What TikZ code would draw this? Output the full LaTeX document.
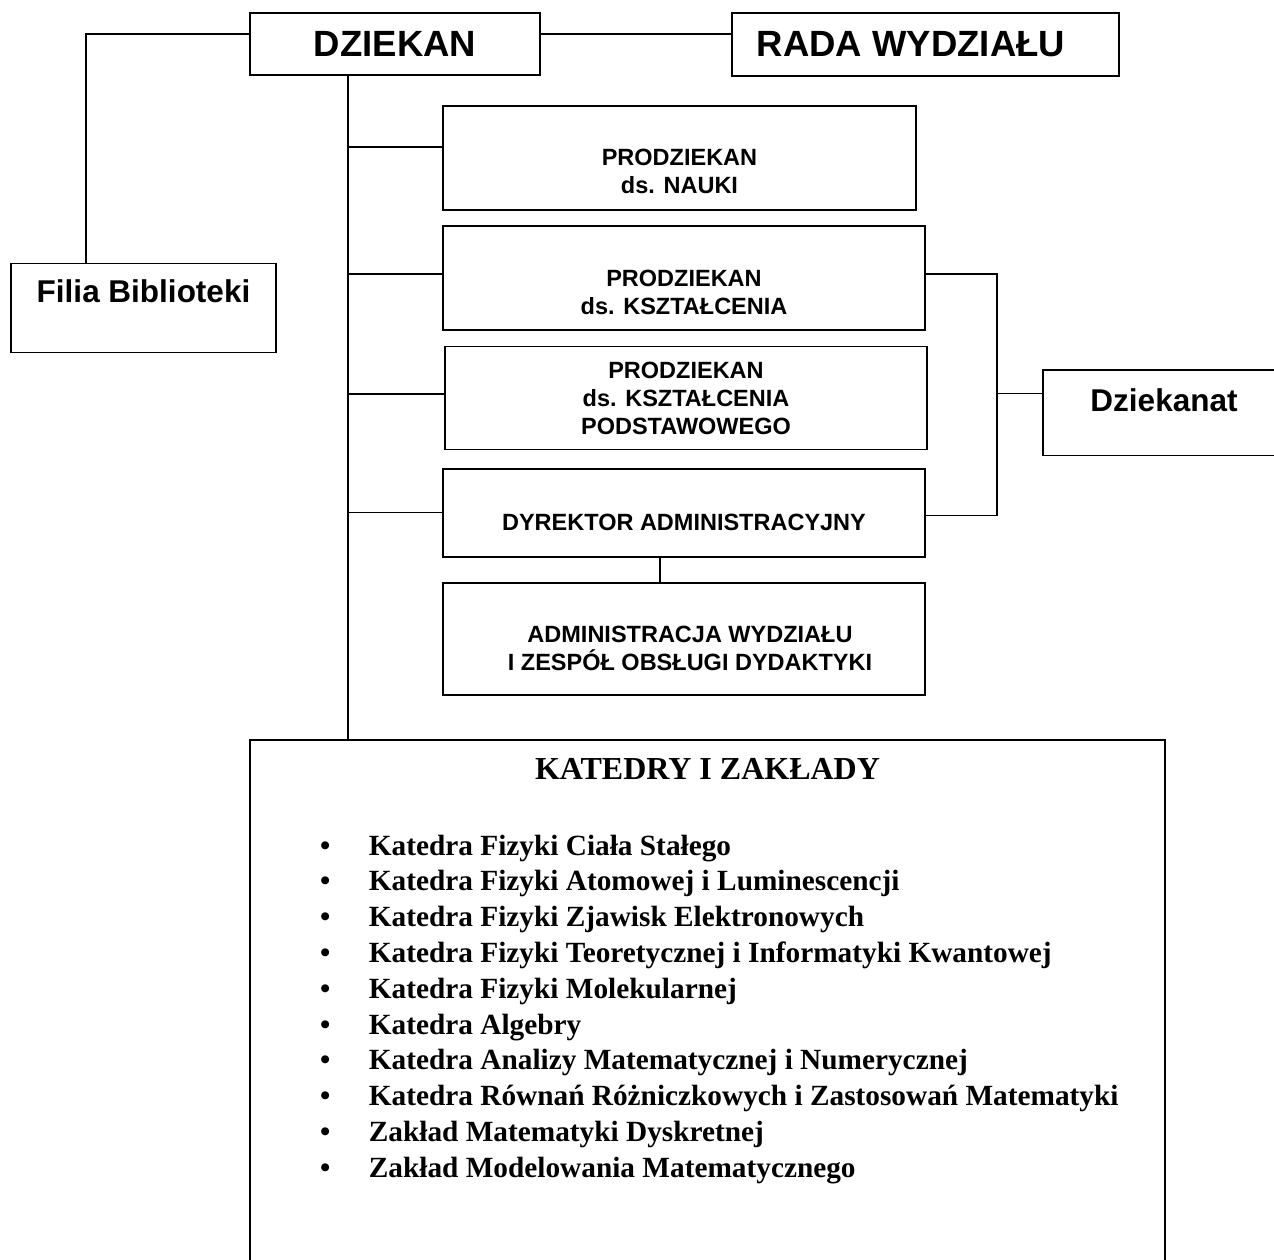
\documentclass[tikz,border=0pt]{standalone}
\usepackage{fontspec}
\setmainfont{Liberation Sans}
\newfontfamily\timesfont{Liberation Serif}
\usetikzlibrary{positioning, calc}

\begin{document}
\begin{tikzpicture}[
  x=1pt, y=-1pt,
  box/.style={draw, line width=1.8pt, inner sep=0pt},
  link/.style={line width=1.5pt},
  head/.style={font=\fontsize{36.5}{40}\selectfont\bfseries, inner sep=0pt},
  side/.style={font=\fontsize{31.5}{36}\selectfont\bfseries, inner sep=0pt},
  unit/.style={font=\fontsize{23.5}{28}\selectfont\bfseries, align=center, inner sep=0pt},
]
  \useasboundingbox (0,0) rectangle (1274,1260);
  \clip (0,0) rectangle (1274,1260);

  % top row
  \node[box, head, minimum width=290pt, minimum height=62pt] (dziekan) at (395,44) {DZIEKAN};
  \node[box, minimum width=387pt, minimum height=63pt] (rada) at (925.5,44.5) {};
  \node[head] (radaT) at ([xshift=-14.5pt]rada.center) {RADA WYDZIAŁU};

  % library
  \node[box, minimum width=265pt, minimum height=89pt] (filia) at (143.5,308) {};
  \node[side] (filiaT) at ([yshift=16.5pt]filia.center) {Filia Biblioteki};

  % deans
  \node[box, minimum width=473pt, minimum height=104pt] (nauki) at (679.5,158) {};
  \node[unit] (naukiT) at ([yshift=-13.5pt]nauki.center) {PRODZIEKAN\\ds. NAUKI};

  \node[box, minimum width=482pt, minimum height=104pt] (ksztal) at (684,278) {};
  \node[unit] (ksztalT) at ([yshift=-14pt]ksztal.center) {PRODZIEKAN\\ds. KSZTAŁCENIA};

  \node[box, minimum width=482pt, minimum height=103pt] (podst) at (686,398) {};
  \node[unit] (podstT) at (podst.center) {PRODZIEKAN\\ds. KSZTAŁCENIA\\PODSTAWOWEGO};

  \node[box, minimum width=482pt, minimum height=88pt] (dyrektor) at (684,512.7) {};
  \node[unit] (dyrektorT) at ([yshift=-9.3pt]dyrektor.center) {DYREKTOR ADMINISTRACYJNY};

  \node[box, minimum width=482pt, minimum height=112pt] (admin) at (684,639) {};
  \node[unit] (adminT) at ([xshift=6pt, yshift=-9.5pt]admin.center) {ADMINISTRACJA WYDZIAŁU\\I ZESPÓŁ OBSŁUGI DYDAKTYKI};

  % office
  \node[box, minimum width=247pt, minimum height=85.5pt] (dziekanat) at (1166.5,412.75) {};
  \node[side] (dziekanatT) at ([xshift=-2.5pt, yshift=12.5pt]dziekanat.center) {Dziekanat};

  % chairs
  \node[box, minimum width=915pt, minimum height=550pt] (katedry) at (707.5,1015) {};
  \node[font=\timesfont\fontsize{32}{36}\selectfont\bfseries, inner sep=0pt] (katedryT) at (707.5,769) {KATEDRY I ZAKŁADY};
  \node[font=\timesfont\fontsize{29.3}{35.8}\selectfont\bfseries, anchor=base west, inner sep=0pt] (lista) at (320,855) {%
    \begin{tabular}[t]{@{}c@{\hskip 38.5pt}l@{}}
      \textbullet & Katedra Fizyki Ciała Stałego\\
      \textbullet & Katedra Fizyki Atomowej i Luminescencji\\
      \textbullet & Katedra Fizyki Zjawisk Elektronowych\\
      \textbullet & Katedra Fizyki Teoretycznej i Informatyki Kwantowej\\
      \textbullet & Katedra Fizyki Molekularnej\\
      \textbullet & Katedra Algebry\\
      \textbullet & Katedra Analizy Matematycznej i Numerycznej\\
      \textbullet & Katedra Równań Różniczkowych i Zastosowań Matematyki\\
      \textbullet & Zakład Matematyki Dyskretnej\\
      \textbullet & Zakład Modelowania Matematycznego
    \end{tabular}};

  % connectors
  \coordinate (trunk) at ([xshift=-47pt]dziekan.south);
  \coordinate (rbus) at ([xshift=71pt, yshift=4pt]ksztal.east);
  \draw[link] ([yshift=10pt]dziekan.west) -| ([xshift=-57.5pt]filia.north);
  \draw[link] ([yshift=10pt]dziekan.east) -- ([yshift=10pt]dziekan.east -| rada.west);
  \draw[link] (trunk) -- (trunk |- katedry.north);
  \draw[link] ([yshift=11pt]nauki.west) -- ([yshift=11pt]nauki.west -| trunk);
  \draw[link] ([yshift=4pt]ksztal.west) -- ([yshift=4pt]ksztal.west -| trunk);
  \draw[link] ([yshift=4pt]podst.west) -- ([yshift=4pt]podst.west -| trunk);
  \draw[link] (dyrektor.west) -- (dyrektor.west -| trunk);
  \draw[link] ([yshift=4pt]ksztal.east) -- (rbus) -- ([yshift=-3pt]dyrektor.east -| rbus) -- ([yshift=-3pt]dyrektor.east);
  \draw[link] ([yshift=19.5pt]dziekanat.west) -- ([yshift=19.5pt]dziekanat.west -| rbus);
  \draw[link] ([xshift=-24pt]dyrektor.south) -- ([xshift=-24pt]admin.north);
\end{tikzpicture}
\end{document}
